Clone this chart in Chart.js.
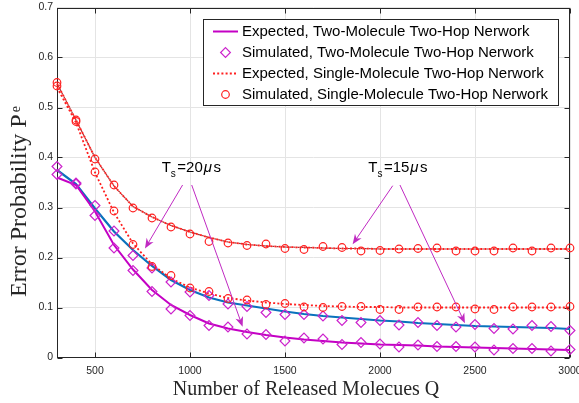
<!DOCTYPE html>
<html><head><meta charset="utf-8">
<script src="https://cdn.jsdelivr.net/npm/chart.js@4.4.0/dist/chart.umd.min.js"></script>
<style>html,body{margin:0;padding:0;background:#fff;}#wrap{width:579px;height:403px;}</style>
</head><body><div id="wrap"><canvas id="c" width="579" height="403"></canvas></div>
<script>
// ---------- data ----------
const Q = [300,400,500,600,700,800,900,1000,1100,1200,1300,1400,1500,1600,1700,1800,1900,2000,2100,2200,2300,2400,2500,2600,2700,2800,2900,3000];
const expTwo20 = [0.360,0.345,0.292,0.225,0.176,0.135,0.105,0.085,0.068,0.058,0.051,0.045,0.040,0.036,0.033,0.030,0.028,0.026,0.025,0.024,0.022,0.021,0.020,0.019,0.018,0.017,0.016,0.015];
const simTwo20 = [0.366,0.347,0.284,0.219,0.174,0.132,0.097,0.084,0.064,0.061,0.047,0.046,0.033,0.039,0.037,0.026,0.030,0.027,0.021,0.025,0.022,0.022,0.021,0.015,0.018,0.018,0.013,0.016];
const expTwo15 = [0.375,0.347,0.298,0.252,0.215,0.183,0.155,0.135,0.120,0.110,0.104,0.098,0.092,0.087,0.083,0.080,0.077,0.074,0.072,0.069,0.067,0.065,0.063,0.062,0.061,0.060,0.059,0.057];
const simTwo15 = [0.382,0.349,0.304,0.253,0.204,0.179,0.151,0.131,0.124,0.107,0.102,0.090,0.086,0.086,0.083,0.074,0.070,0.074,0.065,0.070,0.064,0.061,0.066,0.058,0.057,0.064,0.062,0.054];
const expSingle20 = [0.540,0.470,0.370,0.290,0.228,0.186,0.158,0.140,0.128,0.119,0.114,0.110,0.107,0.105,0.103,0.102,0.101,0.101,0.100,0.100,0.100,0.100,0.100,0.100,0.100,0.100,0.100,0.100];
const simSingle20 = [0.543,0.472,0.371,0.293,0.226,0.182,0.164,0.139,0.132,0.118,0.115,0.106,0.108,0.101,0.100,0.102,0.102,0.096,0.096,0.101,0.101,0.101,0.097,0.096,0.101,0.101,0.101,0.102];
const expSingle15 = [0.548,0.475,0.400,0.343,0.302,0.281,0.264,0.251,0.240,0.231,0.226,0.223,0.221,0.220,0.219,0.218,0.218,0.217,0.217,0.217,0.217,0.217,0.217,0.217,0.217,0.217,0.217,0.217];
const simSingle15 = [0.550,0.475,0.397,0.345,0.299,0.279,0.261,0.247,0.232,0.229,0.224,0.227,0.218,0.216,0.222,0.220,0.213,0.214,0.217,0.218,0.219,0.213,0.213,0.213,0.219,0.213,0.219,0.219];
const xTicks = [500,1000,1500,2000,2500,3000];
const yTicks = [0,0.1,0.2,0.3,0.4,0.5,0.6,0.7];
const legendLabels = ['Expected, Two-Molecule Two-Hop Nerwork','Simulated, Two-Molecule Two-Hop Nerwork','Expected, Single-Molecule Two-Hop Nerwork','Simulated, Single-Molecule Two-Hop Nerwork'];
const xTitle = 'Number of Released Molecues Q';
const yTitle = 'Error Probability P';
const yTitleSub = 'e';
// annotation labels (anchor in data units) and arrows [fromQ, fromP, toQ, toP]
const noteLabels = [
  {ts:'20', q:851, p:0.3716, arrows:[[961,0.345,763,0.218],[1009,0.345,1277,0.0616]]},
  {ts:'15', q:1938, p:0.3716, arrows:[[2067,0.3436,1856,0.2264],[2105,0.345,2447,0.0684]]}
];

// ---------- styles ----------
const C_PURPLE = '#C400C4', C_DIAM = '#CC22CC', C_BLUE = '#0A72BD', C_RED = '#FF1F1F', C_DARK = '#A83434', C_ARROW = '#C02AC2';
const SANS = '"Liberation Sans", Arial, sans-serif';
const SERIF = '"Liberation Serif", "Times New Roman", serif';
const pts = arr => Q.map((q,i)=>({x:q, y:arr[i]}));

const datasets = [
  {data:pts(simSingle15), showLine:false, pointStyle:'circle', pointRadius:3.8, borderColor:C_RED, borderWidth:1.2, backgroundColor:'rgba(0,0,0,0)', clip:false},
  {data:pts(simSingle20), showLine:false, pointStyle:'circle', pointRadius:3.8, borderColor:C_RED, borderWidth:1.2, backgroundColor:'rgba(0,0,0,0)', clip:false},
  {data:pts(simTwo15), showLine:false, pointStyle:'rectRot', pointRadius:4.9, borderColor:C_DIAM, borderWidth:1.2, backgroundColor:'rgba(0,0,0,0)', clip:false},
  {data:pts(simTwo20), showLine:false, pointStyle:'rectRot', pointRadius:4.9, borderColor:C_DIAM, borderWidth:1.2, backgroundColor:'rgba(0,0,0,0)', clip:false},
  {data:pts(expSingle15), pointRadius:0, borderColor:C_RED, borderWidth:1.8, borderDash:[2,2.2], fill:false, tension:0, clip:false},
  {data:pts(expSingle15), pointRadius:0, borderColor:C_DARK, borderWidth:1.2, borderDash:[2,2.2], borderDashOffset:2.1, fill:false, tension:0, clip:false},
  {data:pts(expSingle20), pointRadius:0, borderColor:C_RED, borderWidth:1.8, borderDash:[2,2.2], fill:false, tension:0, clip:false},
  {data:pts(expTwo20), pointRadius:0, borderColor:C_PURPLE, borderWidth:2, fill:false, tension:0, clip:false},
  {data:pts(expTwo15), pointRadius:0, borderColor:C_BLUE, borderWidth:2.2, fill:false, tension:0, clip:false}
];

function drawDiamond(ctx,x,y,r){ctx.beginPath();ctx.moveTo(x,y-r);ctx.lineTo(x+r,y);ctx.lineTo(x,y+r);ctx.lineTo(x-r,y);ctx.closePath();ctx.stroke();}

const framePlugin = {
  id:'frame',
  beforeDatasetsDraw(chart){
    const {ctx, chartArea:a, scales:{x,y}} = chart;
    ctx.save();
    ctx.strokeStyle='#262626'; ctx.lineWidth=1;
    const L=Math.round(a.left)+0.5, R=Math.round(a.right)-0.5, T=Math.round(a.top)+0.5, B=Math.round(a.bottom)-0.5;
    ctx.strokeRect(L,T,R-L,B-T);
    ctx.beginPath();
    xTicks.forEach(v=>{const px=Math.round(x.getPixelForValue(v))+0.5; ctx.moveTo(px,B); ctx.lineTo(px,B-5); ctx.moveTo(px,T); ctx.lineTo(px,T+5);});
    yTicks.forEach(v=>{const py=Math.round(y.getPixelForValue(v))+0.5; ctx.moveTo(L,py); ctx.lineTo(L+5,py); ctx.moveTo(R,py); ctx.lineTo(R-5,py);});
    ctx.stroke();
    ctx.restore();
  },
  afterDraw(chart){
    const {ctx, chartArea:a, scales:{x,y}} = chart;
    ctx.save();
    // annotations
    noteLabels.forEach(n=>{
      let px = x.getPixelForValue(n.q), py = y.getPixelForValue(n.p);
      ctx.fillStyle='#000'; ctx.textBaseline='alphabetic'; ctx.textAlign='left';
      ctx.font='15px '+SANS; ctx.fillText('T',px,py); px+=ctx.measureText('T').width;
      ctx.font='10px '+SANS; ctx.fillText('s',px,py+5); px+=ctx.measureText('s').width+1.5;
      ctx.font='15px '+SANS; ctx.fillText('='+n.ts,px,py); px+=ctx.measureText('='+n.ts).width+1;
      ctx.font='italic 15px '+SANS; ctx.fillText('\u03bc',px,py); px+=ctx.measureText('\u03bc').width+1.5;
      ctx.font='15px '+SANS; ctx.fillText('s',px,py);
      ctx.strokeStyle=C_ARROW; ctx.fillStyle=C_ARROW; ctx.lineWidth=1;
      n.arrows.forEach(ar=>{
        const x0=x.getPixelForValue(ar[0]), y0=y.getPixelForValue(ar[1]), x1=x.getPixelForValue(ar[2]), y1=y.getPixelForValue(ar[3]);
        const dx=x1-x0, dy=y1-y0, len=Math.hypot(dx,dy), ux=dx/len, uy=dy/len, nx=-uy, ny=ux;
        const Lh=10, W=4;
        ctx.beginPath(); ctx.moveTo(x0,y0); ctx.lineTo(x1-ux*6,y1-uy*6); ctx.stroke();
        ctx.beginPath(); ctx.moveTo(x1,y1);
        ctx.lineTo(x1-ux*Lh+nx*W, y1-uy*Lh+ny*W);
        ctx.lineTo(x1-ux*(Lh-3), y1-uy*(Lh-3));
        ctx.lineTo(x1-ux*Lh-nx*W, y1-uy*Lh-ny*W);
        ctx.closePath(); ctx.fill();
      });
    });
    // legend
    const bx=203.5, by=19.5, bw=355, bh=86;
    ctx.fillStyle='#fff'; ctx.fillRect(bx,by,bw,bh);
    ctx.strokeStyle='#262626'; ctx.lineWidth=1; ctx.strokeRect(bx,by,bw,bh);
    const rows=[31.5,52.5,73.5,94.5];
    rows.forEach((ry,i)=>{
      ctx.save();
      if(i===0){ctx.strokeStyle=C_PURPLE; ctx.lineWidth=2; ctx.beginPath(); ctx.moveTo(213,ry); ctx.lineTo(238,ry); ctx.stroke();}
      if(i===1){ctx.strokeStyle=C_DIAM; ctx.lineWidth=1.2; drawDiamond(ctx,225.5,ry,4.9);}
      if(i===2){ctx.strokeStyle=C_RED; ctx.lineWidth=1.8; ctx.setLineDash([2,2.2]); ctx.beginPath(); ctx.moveTo(213,ry); ctx.lineTo(238,ry); ctx.stroke();}
      if(i===3){ctx.strokeStyle=C_RED; ctx.lineWidth=1.2; ctx.beginPath(); ctx.arc(225.5,ry,3.8,0,Math.PI*2); ctx.stroke();}
      ctx.restore();
      ctx.fillStyle='#000'; ctx.font='15px '+SANS; ctx.textBaseline='middle'; ctx.textAlign='left';
      ctx.fillText(legendLabels[i],242,ry+0.5);
    });
    // axis titles
    ctx.fillStyle='#262626'; ctx.textBaseline='alphabetic';
    ctx.font='20px '+SERIF; ctx.textAlign='center';
    ctx.fillText(xTitle, 306, 395);
    ctx.save();
    ctx.translate(26, 297); ctx.rotate(-Math.PI/2);
    ctx.font='24px '+SERIF; ctx.textAlign='left';
    ctx.fillText(yTitle, 0, 0);
    const w = ctx.measureText(yTitle).width;
    ctx.font='14px '+SERIF;
    ctx.fillText(yTitleSub, w+2, -6);
    ctx.restore();
    ctx.restore();
  }
};

new Chart(document.getElementById('c'), {
  type:'line',
  data:{datasets},
  options:{
    responsive:false, animation:false, devicePixelRatio:1,
    layout:{padding:{left:0, right:9, top:7.5, bottom:0}},
    plugins:{legend:{display:false}, tooltip:{enabled:false}},
    elements:{line:{tension:0}},
    scales:{
      x:{type:'linear', min:300, max:3000,
        afterBuildTicks:s=>{s.ticks=xTicks.map(v=>({value:v}));},
        afterFit:s=>{s.height=45.5; s.paddingLeft=0; s.paddingRight=0;},
        ticks:{color:'#262626', font:{family:SANS, size:10.5}, padding:7, maxRotation:0, autoSkip:false, callback:v=>String(v)},
        grid:{color:'#e4e4e4', lineWidth:1, drawTicks:false}, border:{display:false}},
      y:{type:'linear', min:0, max:0.7,
        afterBuildTicks:s=>{s.ticks=yTicks.map(v=>({value:v}));},
        afterFit:s=>{s.width=57; s.paddingTop=0; s.paddingBottom=0;},
        ticks:{color:'#262626', font:{family:SANS, size:10.5}, padding:4, autoSkip:false, callback:v=>String(Math.round(v*10)/10)},
        grid:{color:'#e4e4e4', lineWidth:1, drawTicks:false}, border:{display:false}}
    }
  },
  plugins:[framePlugin]
});
</script></body></html>
